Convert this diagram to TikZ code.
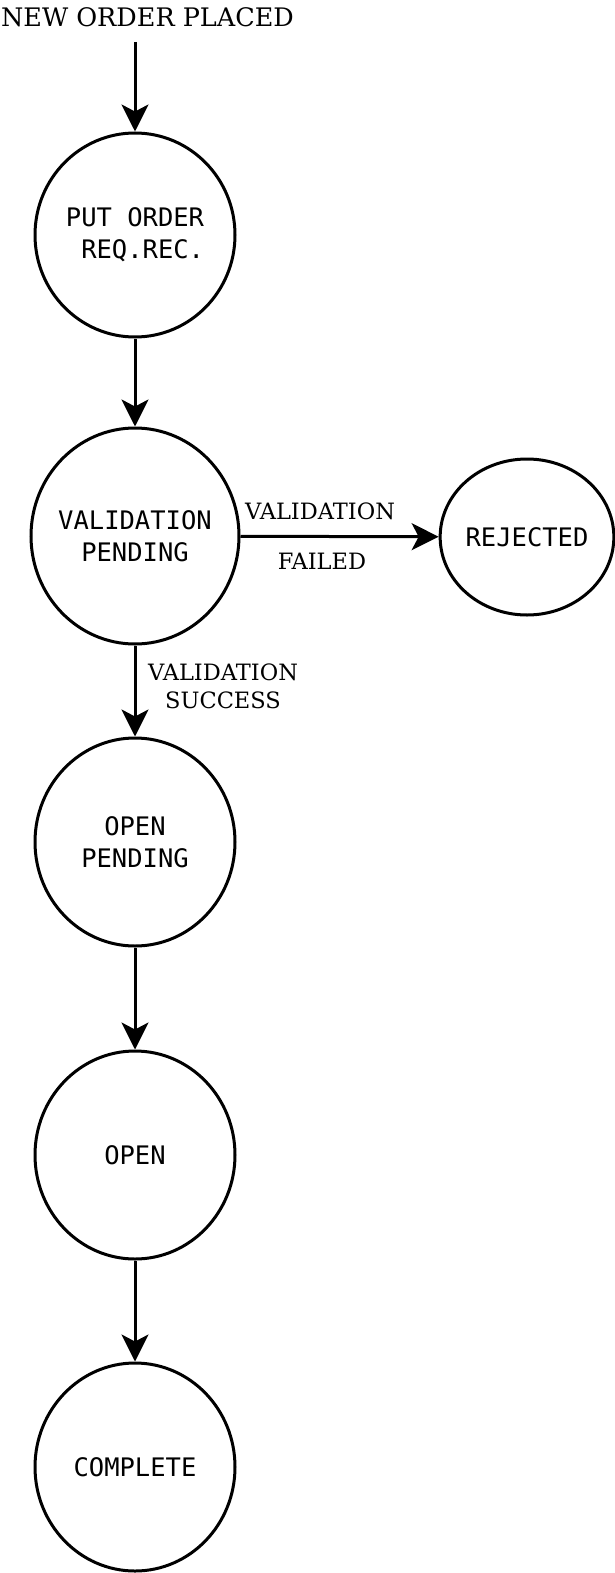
\documentclass[tikz,border=0pt]{standalone}
\usepackage{fontspec}
\setmainfont{DejaVu Serif}
\newfontfamily\monof{DejaVu Sans Mono}
\usetikzlibrary{arrows.meta,shapes.geometric}
\begin{document}
\begin{tikzpicture}[x=1pt,y=-1pt,
  state/.style={draw,line width=3pt,ellipse,inner sep=0pt,font=\monof\fontsize{25.5}{32}\selectfont,align=center},
  lbl/.style={font=\fontsize{22.5}{28}\selectfont,inner sep=0pt,align=center},
  arr/.style={line width=3pt,-{Stealth[length=27pt,width=27pt,inset=7pt]}}]
\useasboundingbox (0,0) rectangle (614,1573);
\node[lbl,font=\fontsize{25.5}{28}\selectfont] (start) at (147.5,17) {NEW ORDER PLACED};
\coordinate (s0) at (135,42);
\node[state,minimum width=200pt,minimum height=204pt] (put) at (135,235) {PUT ORDER\\\hphantom{R}REQ.REC.};
\node[state,inner xsep=-25pt,minimum width=208pt,minimum height=216pt] (val) at (135,536) {VALIDATION\\PENDING};
\node[state,minimum width=170pt,minimum height=156pt] (rej) at (527,537) {REJECTED};
\node[state,minimum width=200pt,minimum height=208pt] (opp) at (135,842) {OPEN\\PENDING};
\node[state,minimum width=200pt,minimum height=208pt] (open) at (135,1155) {OPEN};
\node[state,minimum width=200pt,minimum height=208pt] (comp) at (135,1467) {COMPLETE};
\draw[arr] (s0) -- (put);
\draw[arr] (put) -- (val);
\draw[arr] (val) -- (opp);
\draw[arr] (val) -- (rej);
\draw[arr] (opp) -- (open);
\draw[arr] (open) -- (comp);
\node[lbl] (vf1) at (320,511) {VALIDATION};
\node[lbl] (vf2) at (322,561) {FAILED};
\node[lbl] (vs) at (223,686) {VALIDATION\\SUCCESS};
\end{tikzpicture}
\end{document}
